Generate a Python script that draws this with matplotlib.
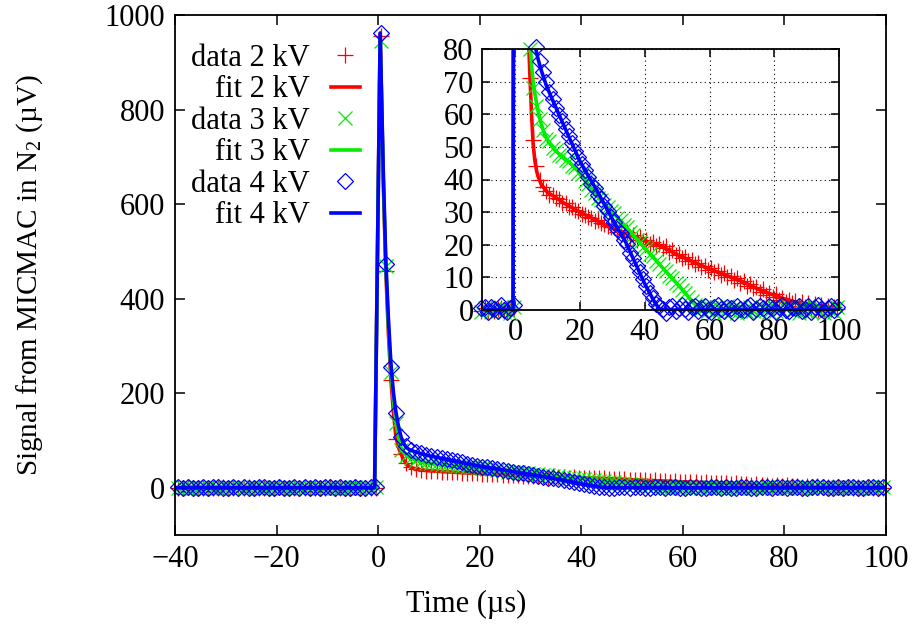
import matplotlib

matplotlib.use("Agg")
import matplotlib.pyplot as plt
import numpy as np

# recorded traces, one sample per microsecond starting at T_START
T_START = -39.5
T_STEP = 1.0

DATA_2KV = [
    # baseline before the pulse
    0.3, -0.4, 0.6, -0.2, 0.1, -0.6, 0.4, 0.2, -0.3, 0.5,
    -0.1, 0.3, -0.5, 0.2, 0.6, -0.3, 0.1, -0.4, 0.4, -0.2,
    0.5, 0.0, -0.5, 0.3, -0.1, 0.2, -0.6, 0.4, 0.1, -0.3,
    0.6, -0.2, 0.3, -0.4, 0.2, 0.5, -0.1, -0.3, 0.4, 0.2,
    # pulse and decay
    955, 458, 228, 104, 71, 52, 44, 39.8, 37.6, 36.4,
    35.3, 35.4, 34.2, 33.9, 32.8, 32.7, 31.6, 31.5, 30.6, 30.4,
    29.5, 29.2, 28.4, 28.3, 27.4, 27.5, 26.6, 26.4, 25.6, 25.4,
    25.3, 23.9, 24.6, 23.2, 23.8, 22.5, 23.1, 21.6, 22.4, 21.0,
    21.6, 20.3, 20.9, 19.6, 20.3, 18.9, 19.5, 17.8, 18.5, 17.0,
    17.2, 15.8, 16.3, 15.0, 15.4, 14.0, 14.4, 13.1, 13.5, 12.3,
    12.8, 11.5, 12.0, 10.7, 11.2, 10.0, 10.5, 9.2, 9.7, 8.4,
    9.0, 7.5, 7.9, 6.6, 7.0, 5.5, 6.3, 4.6, 5.2, 4.1,
    4.8, 3.2, 3.8, 2.5, 3.2, 2.0, 2.8, 1.3, 2.4, 0.8,
    2.1, 0.4, 1.7, 0.1, 1.5, -0.2, 1.3, 0.3, 0.9, 0.2,
]
DATA_3KV = [
    -0.5, 0.8, -0.2, 0.4, -0.9, 0.3, 0.7, -0.4, 0.1, -0.7,
    0.5, -0.3, 0.9, -0.6, 0.2, 0.6, -0.8, 0.3, -0.1, 0.7,
    -0.5, 0.4, 0.1, -0.9, 0.6, -0.2, 0.8, -0.4, 0.3, -0.6,
    0.5, 0.1, -0.7, 0.4, -0.3, 0.9, -0.5, 0.2, -0.8, 1.0,
    945, 468, 245, 136, 80, 68, 62.5, 58.4, 55.1, 52.4,
    51.8, 49.6, 49.1, 47.5, 47.2, 45.9, 45.6, 44.2, 43.8, 42.1,
    41.6, 39.6, 38.6, 36.7, 35.9, 34.3, 33.7, 32.3, 31.7, 30.3,
    29.6, 28.1, 27.5, 26.1, 25.4, 23.9, 23.0, 21.6, 20.9, 19.3,
    18.7, 17.1, 16.4, 14.9, 14.2, 12.7, 12.0, 10.5, 9.9, 8.3,
    7.6, 6.2, 5.3, 3.9, 2.8, 1.6, 1.2, 0.4, 0.9, -0.3,
    0.6, -0.8, 0.9, 0.2, -0.5, 1.1, -0.2, 0.5, -0.9, 0.7,
    0.1, -0.6, 1.0, -0.3, 0.4, -0.7, 0.8, 0.0, -0.5, 1.2,
    -0.2, 0.6, -0.8, 0.3, 0.9, -0.4, 0.2, -0.9, 0.7, -0.1,
    0.5, -0.6, 1.0, -0.3, 0.4, -0.8, 0.6, 0.1, -0.5, 0.9,
]
DATA_4KV = [
    0.6, -0.3, 1.1, 0.2, -0.7, 0.9, -0.1, 0.5, 1.2, -0.4,
    0.3, 0.8, -0.6, 1.0, 0.1, -0.2, 0.7, 1.3, -0.5, 0.4,
    0.9, -0.3, 0.2, 1.1, -0.8, 0.6, 0.0, 1.2, -0.4, 0.5,
    0.8, -0.6, 1.0, 0.3, -0.2, 1.4, 0.1, -0.5, 0.7, 1.5,
    962, 474, 256, 158, 108, 88, 80.5, 76.2, 73.1, 69.8,
    66.9, 64.6, 62.0, 59.8, 57.9, 55.6, 53.4, 51.1, 48.6, 46.9,
    44.6, 42.8, 40.9, 38.7, 37.4, 35.2, 33.9, 31.8, 30.4, 28.6,
    27.1, 24.8, 23.7, 21.5, 20.2, 17.6, 15.8, 13.6, 11.7, 9.4,
    7.5, 5.3, 3.6, 1.9, 1.2, 0.3, -0.8, 0.9, 1.1, -0.4,
    0.6, 1.4, 0.2, -0.7, 0.9, 1.3, -0.2, 0.5, 1.2, 0.0,
    -0.6, 0.8, 1.5, 0.3, -0.3, 1.0, 0.6, -0.8, 1.3, 0.4,
    -0.1, 0.9, 1.4, -0.5, 0.2, 1.1, 0.7, -0.3, 1.2, 0.5,
    -0.6, 0.8, 1.4, 0.1, -0.4, 1.0, 0.6, 1.3, -0.2, 0.4,
    1.1, -0.7, 0.9, 1.5, 0.2, -0.4, 0.7, 1.2, 0.0, 0.8,
]

# fitted curves, given at knots (time in µs, signal in µV)
FIT_2KV_T = [-40, -0.7, 0.4, 1.0, 1.5, 2.0, 2.5, 3.0, 3.5, 4.0, 4.5, 5.0, 5.5, 6.0, 6.5, 7.0, 8.0,
             10, 12, 15, 20, 25, 30, 35, 40, 45, 50, 55, 60, 65, 70, 75, 80, 85, 90, 95, 100]
FIT_2KV_Y = [0, 0, 960, 650, 462, 330, 230, 160, 108, 85, 72, 60, 51, 46, 43, 41, 38.5,
             36, 34.8, 32.8, 30, 27.5, 25, 23.2, 21.2, 19.6, 17, 14.7, 12.6, 10.7, 8.8, 6.4, 4.5, 2.8,
             1.5, 0.7, 0.3]
FIT_3KV_T = [-40, -0.7, 0.4, 1.0, 1.5, 2.0, 2.5, 3.0, 3.5, 4.0, 4.5, 5.0, 5.5, 6.0, 7.0, 8.0, 9.0,
             10, 12, 15, 18, 20, 22, 24, 26, 28, 30, 32, 35, 40, 45, 50, 53, 55, 56.5, 58, 100]
FIT_3KV_Y = [0, 0, 950, 660, 475, 345, 250, 185, 140, 108, 84, 75, 70, 66.5, 61, 57, 54,
             52, 49.2, 46.5, 44.2, 42, 39.2, 36.5, 34.2, 32, 30, 27.8, 24.5, 19, 13.5, 8, 4.6, 2.2,
             0.7, 0, 0]
FIT_4KV_T = [-40, -0.7, 0.4, 1.0, 1.5, 2.0, 2.5, 3.0, 3.5, 4.0, 4.5, 5.0, 5.5, 6.0, 7.0, 8.0, 9.5,
             11, 13, 15.9, 17.5, 20, 22.6, 25, 28, 31, 34, 37, 40, 42.7, 44, 45, 100]
FIT_4KV_Y = [0, 0, 962, 675, 482, 362, 265, 202, 160, 130, 108, 94, 86, 81.5, 77, 73.5, 69,
             65.5, 61, 54.5, 51, 45.5, 41, 37, 31.5, 26, 21, 14.5, 8, 3, 1, 0, 0]

LABELS = ["2 kV", "3 kV", "4 kV"]
COLORS = ["#ff0000", "#00ee00", "#0000ff"]
MARKERS = [("+", 12), ("x", 10), ("D", 8)]

FS = 22


def times(values):
    return T_START + T_STEP * np.arange(len(values))


def main() -> None:
    plt.rcParams["font.family"] = ["Liberation Serif", "DejaVu Serif"]
    plt.rcParams["mathtext.fontset"] = "custom"
    plt.rcParams["mathtext.rm"] = "Liberation Serif"
    plt.rcParams["mathtext.it"] = "Liberation Serif:italic"

    data = [np.array(DATA_2KV), np.array(DATA_3KV), np.array(DATA_4KV)]
    fits = [(FIT_2KV_T, FIT_2KV_Y), (FIT_3KV_T, FIT_3KV_Y), (FIT_4KV_T, FIT_4KV_Y)]

    fig = plt.figure(figsize=(9.17, 6.35), dpi=100)
    ax = fig.add_axes([175 / 917, 100 / 635, 711 / 917, 520 / 635])
    ins = fig.add_axes([482 / 917, 325 / 635, 357 / 917, 261 / 635])

    for y, (ft, fy), lab, col, (mk, ms) in zip(data, fits, LABELS, COLORS, MARKERS):
        t = times(y)
        ax.plot(t, y, ls="none", marker=mk, ms=ms, mew=0.9, mfc="none", color=col,
                clip_on=False, label=f"data {lab}")
        ax.plot(ft, fy, color=col, lw=2.6, label=f"fit {lab}")

        keep = (y <= 82) & (t >= -11)
        ins.plot(t[keep], y[keep], ls="none", marker=mk, ms=ms, mew=0.9, mfc="none", color=col,
                 clip_on=False)
        ins.plot(ft, fy, color=col, lw=2.6)

    ax.set_xlim(-40, 100)
    ax.set_ylim(-100, 1000)
    ax.set_xticks(np.arange(-40, 101, 20))
    ax.set_yticks(np.arange(0, 1001, 200))
    ax.tick_params(direction="in", top=True, right=True, length=7, width=1.1, labelsize=FS, pad=7)
    for s in ax.spines.values():
        s.set_linewidth(1.3)
    ax.set_xlabel("Time (µs)", fontsize=FS)
    ax.set_ylabel("Signal from MICMAC in N$_2$ (µV)", fontsize=21)
    ax.xaxis.set_label_coords(0.41, -0.105)
    ax.yaxis.set_label_coords(-0.183, 0.5)

    ins.set_xlim(-10.3, 100)
    ins.set_ylim(0, 80)
    ins.set_xticks(np.arange(0, 101, 20))
    ins.set_yticks(np.arange(0, 81, 10))
    ins.tick_params(direction="in", top=True, right=True, length=6, width=1.1, labelsize=FS, pad=6)
    ins.grid(True, color="black", ls=(0, (1, 3)), lw=0.8)
    for s in ins.spines.values():
        s.set_linewidth(1.3)

    ax.legend(loc="upper right", bbox_to_anchor=(360 / 917, 1 - 44 / 635), bbox_transform=fig.transFigure,
              frameon=False, markerfirst=False, alignment="right", fontsize=FS, numpoints=1,
              handlelength=0.95, handletextpad=0.7, labelspacing=0.08, borderpad=0, borderaxespad=0)

    fig.savefig("out.png", dpi=100)
    plt.close(fig)


if __name__ == "__main__":
    main()
